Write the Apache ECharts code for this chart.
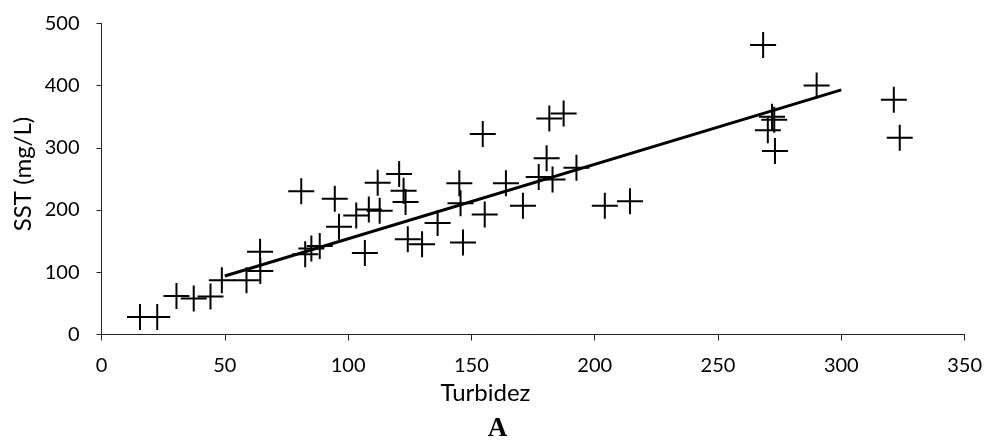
<!DOCTYPE html>
<html>
<head>
<meta charset="utf-8">
<script src="https://cdn.jsdelivr.net/npm/echarts@6/dist/echarts.min.js"></script>
<style>
html,body{margin:0;padding:0;background:#fff;}
#chart{width:985px;height:443px;}
</style>
</head>
<body>
<div id="chart"></div>
<script>
const turbidez = [15.6,22.6,30.4,37.4,44.2,48.8,58.8,64.4,64.3,81,82.6,85.1,88.5,94.6,96.3,103.3,106.8,108.4,112.8,112,120.7,122.5,123.3,124.2,130,136.3,145.1,145.6,146.6,154.6,155.4,164,170.9,177.3,180.5,182.9,181.6,187.4,192.6,204.1,214.3,268.3,270.2,271.9,272.8,273.1,290,321.3,323.7];
const sst = [28,28,62,58,61,87,87,102,133,230,129,138,142,218,173,191,131,201,199,244,258,231,213,153,145,179,243,211,148,322,193,243,207,253,283,249,347,355,268,207,214,465,328,350,345,295,400,377,316];
const trendX = [50,300];
const trendY = [94,393];
const xTicks = [0,50,100,150,200,250,300,350];
const yTicks = [0,100,200,300,400,500];
const xName = 'Turbidez';
const yName = 'SST (mg/L)';
const panelLabel = 'A';

const points = turbidez.map((x,i)=>[x,sst[i]]);
const trend = trendX.map((x,i)=>[x,trendY[i]]);
const font = 'Lato, "Open Sans", sans-serif';

const chart = echarts.init(document.getElementById('chart'));
chart.setOption({
  animation:false,
  backgroundColor:'#fff',
  grid:{left:101.5,right:19,top:23.3,bottom:108.5},
  graphic:[
    {type:'text',x:485.5,y:393,style:{text:xName,fontFamily:font,fontSize:24,fill:'#000',align:'center',verticalAlign:'middle'}},
    {type:'text',x:23,y:174,rotation:Math.PI/2,style:{text:yName,fontFamily:font,fontSize:24,fill:'#000',align:'center',verticalAlign:'middle'}},
    {type:'text',x:497.5,y:429,style:{text:panelLabel,fontFamily:'"Liberation Serif", serif',fontWeight:'bold',fontSize:27,fill:'#000',align:'center',verticalAlign:'middle'}}
  ],
  xAxis:{type:'value',min:xTicks[0],max:xTicks[xTicks.length-1],interval:50,
    axisLine:{show:true,lineStyle:{color:'#222',width:1}},
    axisTick:{show:true,length:6,lineStyle:{color:'#222'}},
    axisLabel:{fontFamily:font,fontSize:20,color:'#000',margin:21},
    splitLine:{show:false}},
  yAxis:{type:'value',min:yTicks[0],max:yTicks[yTicks.length-1],interval:100,
    axisLine:{show:true,lineStyle:{color:'#222',width:1}},
    axisTick:{show:true,length:5,lineStyle:{color:'#222'}},
    axisLabel:{fontFamily:font,fontSize:20,color:'#000',margin:22},
    splitLine:{show:false}},
  series:[
    {type:'scatter',data:points,symbol:'path://M12,0 H14 V12 H26 V14 H14 V26 H12 V14 H0 V12 H12 Z',symbolSize:26,
     itemStyle:{color:'#000',opacity:1},z:3},
    {type:'line',data:trend,symbol:'none',lineStyle:{color:'#000',width:3},z:2}
  ]
});
</script>
</body>
</html>
